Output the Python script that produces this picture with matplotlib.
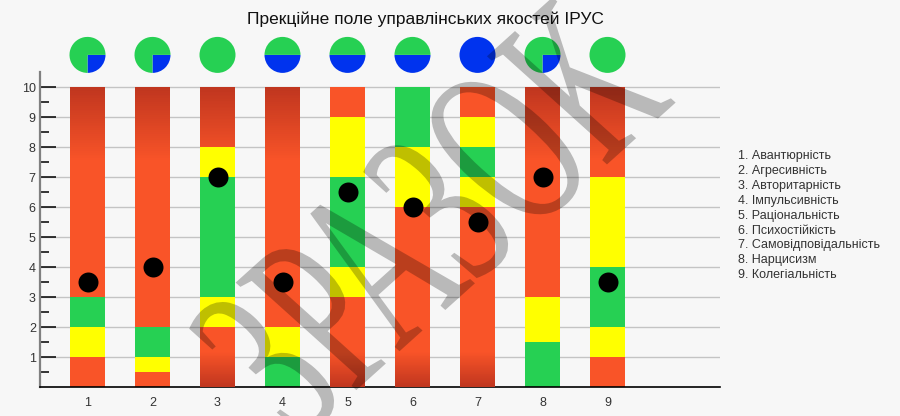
import numpy as np
import matplotlib
matplotlib.use("Agg")
import matplotlib.pyplot as plt
import matplotlib.transforms as mtransforms
from matplotlib.colors import to_rgb
from matplotlib.textpath import TextPath
from matplotlib.patches import PathPatch
from matplotlib.font_manager import FontProperties

# ======================
# Data
# ======================
columns = [1, 2, 3, 4, 5, 6, 7, 8, 9]
qualities = [
    "1. Авантюрність",
    "2. Агресивність",
    "3. Авторитарність",
    "4. Імпульсивність",
    "5. Раціональність",
    "6. Психостійкість",
    "7. Самовідповідальність",
    "8. Нарцисизм",
    "9. Колегіальність",
]
# zone boundaries (bottom -> top) and zone type for each column
# r = red, y = yellow, g = green
zone_edges = [
    [0, 1, 2, 3, 10],
    [0, 0.5, 1, 2, 10],
    [0, 2, 3, 7, 8, 10],
    [0, 1, 2, 10],
    [0, 3, 4, 7, 9, 10],
    [0, 6, 8, 10],
    [0, 6, 7, 8, 9, 10],
    [0, 1.5, 3, 10],
    [0, 1, 2, 4, 7, 10],
]
zone_kinds = ["rygr", "rygr", "rygyr", "gyr", "rygyr", "ryg", "rygyr", "gyr", "rygyr"]
scores = [3.5, 4, 7, 3.5, 6.5, 6, 5.5, 7, 3.5]
blue_share = [0.25, 0.25, 0, 0.5, 0.5, 0.5, 1.0, 0.25, 0]

# ======================
# Style
# ======================
plt.rcParams["font.family"] = ["Liberation Sans", "DejaVu Sans"]
RED = "#f95428"
RED_DARK = "#c0361f"
YELLOW = "#ffff00"
GREEN = "#26d053"
BLUE = "#0033ee"
BG = "#f7f7f7"
kind_color = {"r": RED, "y": YELLOW, "g": GREEN}
BAR_W = 0.54
TOP_FADE = 2.5
BOT_FADE = 1.2

fig = plt.figure(figsize=(9, 4.16), dpi=100, facecolor=BG)
ax = fig.add_axes([40 / 900, 29 / 416, 680 / 900, 315 / 416])
ax.set_facecolor(BG)

c_lo, c_hi = np.array(to_rgb(RED)), np.array(to_rgb(RED_DARK))


def fade(x, lo, hi, t_lo, t_hi, n=40):
    # darken a red zone towards the chart edge with thin slices
    edges = np.linspace(lo, hi, n + 1)
    ts = np.linspace(t_lo, t_hi, n)
    dh = (hi - lo) / n
    for e, t in zip(edges[:-1], ts):
        ax.bar(x, dh * 1.6 if e + dh * 1.6 <= hi else hi - e, bottom=e,
               width=BAR_W, color=c_lo * (1 - t) + c_hi * t, linewidth=0, zorder=3)


for x, edges, kinds in zip(columns, zone_edges, zone_kinds):
    for lo, hi, k in zip(edges[:-1], edges[1:], kinds):
        ax.bar(x, hi - lo, bottom=lo, width=BAR_W, color=kind_color[k],
               linewidth=0, zorder=2)
        if k == "r" and hi - lo >= 2:
            if hi == 10:
                g_lo = max(lo, 10 - TOP_FADE)
                fade(x, g_lo, 10, (g_lo - (10 - TOP_FADE)) / TOP_FADE, 1)
            if lo == 0:
                g_hi = min(hi, BOT_FADE)
                fade(x, 0, g_hi, 1, 1 - g_hi / BOT_FADE)

ax.scatter(columns, scores, s=207, color="black", zorder=5, linewidths=0)

# ======================
# Axes
# ======================
ax.set_xlim(1 - 47.5 / 65, 9 + 112.5 / 65)
ax.set_ylim(0, 10.5)
ax.set_xticks(columns)
ax.set_yticks(range(1, 11))
ax.set_yticks(np.arange(0.5, 10, 1), minor=True)
ax.grid(axis="y", color="#c4c4c4", linewidth=1, zorder=0)
ax.set_axisbelow(True)
ax.tick_params(axis="y", which="major", direction="in", length=11.5,
               width=1.1, color="black", labelsize=9, labelcolor="#333333", pad=3)
ax.tick_params(axis="y", which="minor", direction="in", length=6.5,
               width=1.1, color="black")
ax.tick_params(axis="x", length=0, labelsize=9, labelcolor="#333333", pad=7)
for s in ("top", "right"):
    ax.spines[s].set_visible(False)
ax.spines["left"].set_color("#808080")
ax.spines["left"].set_linewidth(1.6)
ax.spines["bottom"].set_color("black")
ax.spines["bottom"].set_linewidth(1.2)

# ---------- pies above the columns ----------
for x, f in zip(columns, blue_share):
    pax = ax.inset_axes([x - 0.277, 10.47, 0.554, 1.2], transform=ax.transData)
    vals, cols = [], []
    if f > 0:
        vals.append(f)
        cols.append(BLUE)
    if f < 1:
        vals.append(1 - f)
        cols.append(GREEN)
    pax.pie(vals, colors=cols, startangle=0, counterclock=False,
            wedgeprops={"linewidth": 0})
    pax.set_xlim(-1, 1)
    pax.set_ylim(-1, 1)
    pax.set_facecolor("none")
    pax.axis("off")

# ---------- texts ----------
fig.text(425 / 900, 1 - 19 / 416, "Прекційне поле управлінських якостей ІРУС",
         ha="center", va="center", fontsize=12.5, color="#111111")

for i, q in enumerate(qualities):
    fig.text(738 / 900, 1 - (156 + i * 14.9) / 416, q, ha="left", va="center",
             fontsize=9, color="#333333")

# ---------- watermark (tall, narrow letters, rotated) ----------
tp = TextPath((0, 0), "ЗРАЗОК", size=100, prop=FontProperties(family="Liberation Serif"))
bb = tp.get_extents()
wm_tr = (mtransforms.Affine2D()
         .translate(-(bb.x0 + bb.x1) / 2, -(bb.y0 + bb.y1) / 2)
         .scale(500 / bb.width, 165 / bb.height)
         .skew_deg(-6, 0)
         .rotate_deg(42)
         .translate(430, 200))
fig.add_artist(PathPatch(tp, transform=wm_tr, facecolor="black", alpha=0.25,
                         linewidth=0, zorder=10))

fig.savefig("out.png", dpi=100, facecolor=BG)
